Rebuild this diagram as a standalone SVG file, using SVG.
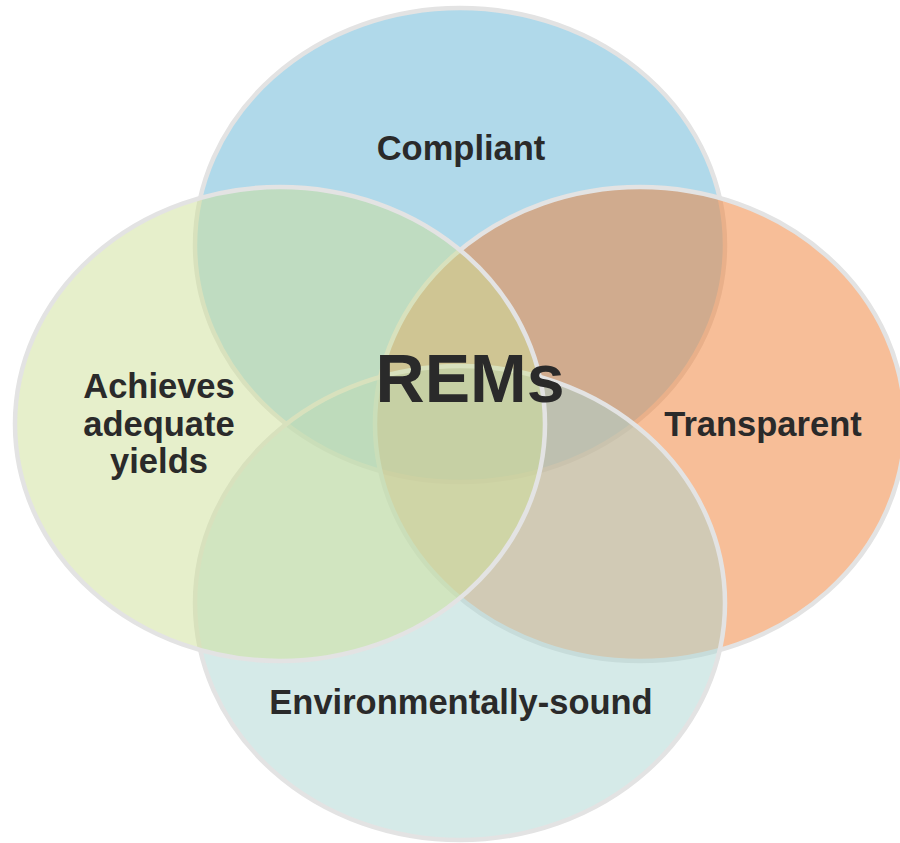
<svg xmlns="http://www.w3.org/2000/svg" width="900" height="843" viewBox="0 0 900 843">
  <style>
    .ell { stroke: #e3e3e3; stroke-width: 4.5; fill-opacity: 0.5; }
    .lbl { font-family: "Liberation Sans", Arial, sans-serif; font-weight: bold; fill: #2a2a2a; text-anchor: middle; }
  </style>
  <rect width="900" height="843" fill="#ffffff"/>
  <g id="compliant">
    <ellipse class="ell" cx="460" cy="245" rx="265" ry="237" fill="#61b3d5"/>
  </g>
  <g id="transparent">
    <ellipse class="ell" cx="640" cy="424" rx="265" ry="237" fill="#ef7d31"/>
  </g>
  <g id="environmentally-sound">
    <ellipse class="ell" cx="460" cy="603" rx="265" ry="237" fill="#abd5d1"/>
  </g>
  <g id="achieves-adequate-yields">
    <ellipse class="ell" cx="280" cy="424" rx="265" ry="237" fill="#cddf97"/>
  </g>
  <g id="labels">
    <text class="lbl" x="461" y="160" font-size="34.5">Compliant</text>
    <text class="lbl" x="763" y="436" font-size="34.5">Transparent</text>
    <text class="lbl" x="461" y="714" font-size="34.5">Environmentally-sound</text>
    <text class="lbl" x="159" y="398" font-size="34.5">Achieves</text>
    <text class="lbl" x="159" y="436" font-size="34.5">adequate</text>
    <text class="lbl" x="159" y="473" font-size="34.5">yields</text>
  </g>
  <g id="rems">
    <text class="lbl" x="470" y="402" font-size="68">REMs</text>
  </g>
</svg>
